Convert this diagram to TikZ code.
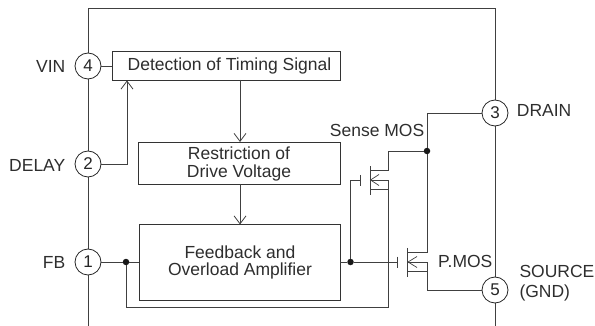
\documentclass[tikz,border=0pt]{standalone}
\usepackage{fontspec}
\setmainfont{Liberation Sans}
\usetikzlibrary{arrows.meta,calc}
\tikzset{
  wire/.style={draw=black!75,line width=0.85pt,line join=miter},
  arr/.style={wire,-{Straight Barb[length=8pt,width=12pt,line width=0.8pt]}},
  blockbox/.style={draw=black!80,line width=0.9pt,fill=white,inner sep=0pt},
  blocktext/.style={inner sep=0pt,font=\fontsize{17.5pt}{18pt}\selectfont,text=black!82,align=center},
  pin/.style={circle,draw=black!85,line width=0.8pt,fill=white,minimum size=26pt,inner sep=0pt,font=\fontsize{17pt}{18pt}\selectfont,text=black!85},
  lab/.style={inner sep=0pt,font=\fontsize{17.5pt}{20pt}\selectfont,text=black!82,align=left},
  dot/.style={circle,fill=black!90,minimum size=6.5pt,inner sep=0pt},
}
\begin{document}
\begin{tikzpicture}[x=1pt,y=-1pt]
\useasboundingbox (0,0) rectangle (595,326);
% package outline
\coordinate (ol) at (88,326);
\coordinate (otl) at (88,8);
\coordinate (otr) at (495,8);
\coordinate (or) at (495,326);
\draw[wire] (ol) -- (otl) -- (otr) -- (or);
% blocks
\node[blockbox,minimum width=228pt,minimum height=29.5pt,anchor=north west] (det) at (112,50.7) {};
\node[blockbox,minimum width=202.5pt,minimum height=42pt,anchor=north west] (res) at (137.7,142) {};
\node[blockbox,minimum width=201pt,minimum height=75.5pt,anchor=north west] (amp) at (138.5,224.5) {};
\node[blocktext] (dett) at (229.5,65.5) {Detection of Timing Signal};
\node[blocktext] (rest) at (239,164) {Restriction of\\[0.5pt]Drive Voltage};
\node[blocktext] (ampt) at (240,262.5) {Feedback and\\[-0.5pt]Overload Amplifier};
% pins
\node[pin] (p4) at (88,66) {4};
\node[pin] (p2) at (88,164) {2};
\node[pin] (p1) at (88,262) {1};
\node[pin] (p3) at (495,113) {3};
\node[pin] (p5) at (495,290) {5};
% labels
\node[lab,anchor=east] (lvin) at (65.5,66) {VIN};
\node[lab,anchor=east] (ldelay) at (65.5,165) {DELAY};
\node[lab,anchor=east] (lfb) at (65.5,262) {FB};
\node[lab,anchor=west] (ldrain) at (516.7,110.5) {DRAIN};
\node[lab,anchor=west] (lsrc) at (519.3,283) {SOURCE\\(GND)};
\node[lab,anchor=east] (lsense) at (424.5,130) {Sense MOS};
\node[lab,anchor=west] (lpmos) at (438,261) {P.MOS};
% junctions
\node[dot] (jfb) at (126,262) {};
\node[dot] (jgate) at (350.5,262) {};
\node[dot] (jd) at (427,151) {};
% coordinates of the transistors
\coordinate (sg) at (350.5,180);
\coordinate (sgp) at (360.5,180);
\coordinate (sct) at (370,166.5);
\coordinate (scb) at (370,195);
\coordinate (sdr) at (388,170.5);
\coordinate (sbody) at (388,180);
\coordinate (ssr) at (388,189);
\coordinate (pg) at (397,262);
\coordinate (pct) at (407.5,248);
\coordinate (pcb) at (407.5,277);
\coordinate (pdr) at (427,252.7);
\coordinate (pbody) at (427,262);
\coordinate (psr) at (427,271.7);
\coordinate (fbret) at (126,307);
\coordinate (fbcor) at (388,307);
% connections
\draw[wire] (p4) -- (det.west |- p4);
\draw[arr] (p2.east) -| (127,80.5);
\draw[arr] (240,80) -- (240,142);
\draw[arr] (240,184) -- (240,224.5);
\draw[wire] (p1) -- (jfb) -- (amp.west |- jfb);
\draw[wire] (jfb) -- (fbret) -- (fbcor) -- (sbody) -- (sct |- sbody);
\draw[wire] (amp.east |- jgate) -- (jgate) -- (pg);
\draw[wire] (jgate) -- (sg) -- (sgp);
% sense MOS
\draw[wire] (sgp |- 0,175) -- (sgp |- 0,186);
\draw[wire] (sct) -- (scb);
\draw[wire] (sct |- sdr) -- (sdr) |- (jd);
\draw[wire] (sct |- ssr) -- (ssr);
\draw[wire,line width=0.7pt] (379,174.5) -- (370.5,180) -- (379,185.5);
% P.MOS
\draw[wire] (pg |- 0,256.5) -- (pg |- 0,267.5);
\draw[wire] (pct) -- (pcb);
\draw[wire] (p3) -| (jd);
\draw[wire] (jd) -- (pdr) -- (pct |- pdr);
\draw[wire] (pct |- pbody) -- (pbody) -- (psr) -- (pct |- psr);
\draw[wire] (psr) |- (p5);
\draw[wire,line width=0.7pt] (417,256.5) -- (408,262) -- (417,267.5);
\end{tikzpicture}
\end{document}
